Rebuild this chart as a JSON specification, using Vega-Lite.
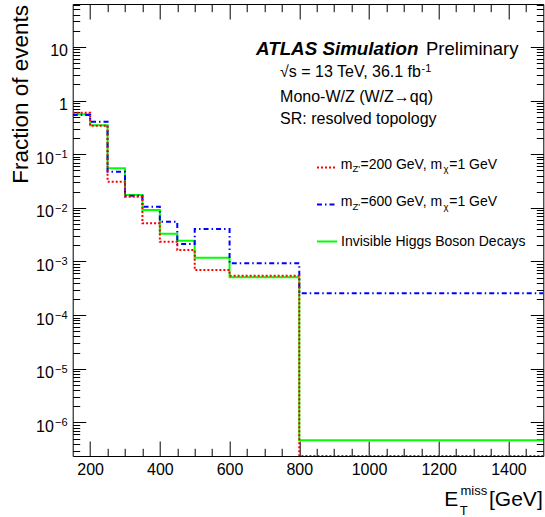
{
  "$schema": "https://vega.github.io/schema/vega-lite/v6.json",
  "width": 470.6,
  "height": 452,
  "autosize": {"type": "none"},
  "padding": {"left": 72.7, "top": 4, "right": 1.7, "bottom": 61},
  "background": "white",
  "config": {
    "view": {"stroke": null},
    "font": "Liberation Sans",
    "text": {"font": "Liberation Sans", "color": "black"},
    "axis": {
      "domainColor": "black", "tickColor": "black", "domainWidth": 1, "tickWidth": 1,
      "grid": false, "labelColor": "black", "labelFont": "Liberation Sans", "labelFontSize": 16,
      "labelFlush": false, "labelOverlap": false, "titleColor": "black", "titleFont": "Liberation Sans"
    }
  },
  "datasets": {
    "hist": [
      {"x": 150, "y": 0.553, "s": "Invisible Higgs Boson Decays"},
      {"x": 200, "y": 0.345, "s": "Invisible Higgs Boson Decays"},
      {"x": 250, "y": 0.0545, "s": "Invisible Higgs Boson Decays"},
      {"x": 300, "y": 0.0173, "s": "Invisible Higgs Boson Decays"},
      {"x": 350, "y": 0.0091, "s": "Invisible Higgs Boson Decays"},
      {"x": 400, "y": 0.00329, "s": "Invisible Higgs Boson Decays"},
      {"x": 450, "y": 0.00244, "s": "Invisible Higgs Boson Decays"},
      {"x": 500, "y": 0.00117, "s": "Invisible Higgs Boson Decays"},
      {"x": 600, "y": 0.000507, "s": "Invisible Higgs Boson Decays"},
      {"x": 800, "y": 4.64e-7, "s": "Invisible Higgs Boson Decays"},
      {"x": 1500, "y": 4.64e-7, "s": "Invisible Higgs Boson Decays"},
      {"x": 150, "y": 0.537, "s": "mZ'=600 GeV, mχ=1 GeV"},
      {"x": 200, "y": 0.403, "s": "mZ'=600 GeV, mχ=1 GeV"},
      {"x": 250, "y": 0.0471, "s": "mZ'=600 GeV, mχ=1 GeV"},
      {"x": 300, "y": 0.0168, "s": "mZ'=600 GeV, mχ=1 GeV"},
      {"x": 350, "y": 0.0105, "s": "mZ'=600 GeV, mχ=1 GeV"},
      {"x": 400, "y": 0.00551, "s": "mZ'=600 GeV, mχ=1 GeV"},
      {"x": 450, "y": 0.00211, "s": "mZ'=600 GeV, mχ=1 GeV"},
      {"x": 500, "y": 0.00403, "s": "mZ'=600 GeV, mχ=1 GeV"},
      {"x": 600, "y": 0.000924, "s": "mZ'=600 GeV, mχ=1 GeV"},
      {"x": 800, "y": 0.000255, "s": "mZ'=600 GeV, mχ=1 GeV"},
      {"x": 1500, "y": 0.000255, "s": "mZ'=600 GeV, mχ=1 GeV"},
      {"x": 150, "y": 0.593, "s": "mZ'=200 GeV, mχ=1 GeV"},
      {"x": 200, "y": 0.34, "s": "mZ'=200 GeV, mχ=1 GeV"},
      {"x": 250, "y": 0.0307, "s": "mZ'=200 GeV, mχ=1 GeV"},
      {"x": 300, "y": 0.0161, "s": "mZ'=200 GeV, mχ=1 GeV"},
      {"x": 350, "y": 0.00514, "s": "mZ'=200 GeV, mχ=1 GeV"},
      {"x": 400, "y": 0.00233, "s": "mZ'=200 GeV, mχ=1 GeV"},
      {"x": 450, "y": 0.00163, "s": "mZ'=200 GeV, mχ=1 GeV"},
      {"x": 500, "y": 0.000693, "s": "mZ'=200 GeV, mχ=1 GeV"},
      {"x": 600, "y": 0.000542, "s": "mZ'=200 GeV, mχ=1 GeV"},
      {"x": 800, "y": 2.37e-7, "s": "mZ'=200 GeV, mχ=1 GeV"},
      {"x": 1500, "y": 2.37e-7, "s": "mZ'=200 GeV, mχ=1 GeV"}
    ],
    "exps": [
      {"v": 0.1, "e": "−1"},
      {"v": 0.01, "e": "−2"},
      {"v": 0.001, "e": "−3"},
      {"v": 0.0001, "e": "−4"},
      {"v": 1e-5, "e": "−5"},
      {"v": 1e-6, "e": "−6"}
    ],
    "one": [{}]
  },
  "layer": [
    {
      "data": {"name": "hist"},
      "mark": {"type": "line", "interpolate": "step-after", "strokeWidth": 2, "clip": true},
      "encoding": {
        "x": {"field": "x", "type": "quantitative",
          "scale": {"domain": [150, 1500], "nice": false, "zero": false},
          "axis": {"orient": "bottom", "title": null, "format": "d",
            "values": [200,250,300,350,400,450,500,550,600,650,700,750,800,850,900,950,1000,1050,1100,1150,1200,1250,1300,1350,1400,1450],
            "labelExpr": "datum.value % 200 == 0 ? datum.label : ''",
            "tickSize": {"condition": {"test": "datum.value % 200 == 0", "value": -15}, "value": -7.7},
            "labelPadding": 33, "labelBaseline": "alphabetic"}},
        "y": {"field": "y", "type": "quantitative",
          "scale": {"type": "log", "domain": [2.37e-7, 63], "nice": false},
          "axis": {"orient": "left", "title": "Fraction of events",
            "titleFontSize": 22.5, "titleFontWeight": "normal", "titleAngle": 270,
            "titleX": -44.8, "titleY": 0.5, "titleAlign": "right", "titleBaseline": "alphabetic",
            "values": [3e-7,4e-7,5e-7,6e-7,7e-7,8e-7,9e-7,1e-6,2e-6,3e-6,4e-6,5e-6,6e-6,7e-6,8e-6,9e-6,1e-5,2e-5,3e-5,4e-5,5e-5,6e-5,7e-5,8e-5,9e-5,1e-4,2e-4,3e-4,4e-4,5e-4,6e-4,7e-4,8e-4,9e-4,0.001,0.002,0.003,0.004,0.005,0.006,0.007,0.008,0.009,0.01,0.02,0.03,0.04,0.05,0.06,0.07,0.08,0.09,0.1,0.2,0.3,0.4,0.5,0.6,0.7,0.8,0.9,1,2,3,4,5,6,7,8,9,10,20,30,40,50,60],
            "labelExpr": "datum.value == 10 ? '10' : datum.value == 1 ? '1' : indexof([1e-6,1e-5,1e-4,0.001,0.01,0.1], datum.value) >= 0 ? '10' : ''",
            "tickSize": {"condition": {"test": "indexof([1e-6,1e-5,1e-4,0.001,0.01,0.1,1,10], datum.value) >= 0", "value": -13}, "value": -7},
            "labelPadding": {"condition": {"test": "datum.value >= 1", "value": 18.2}, "value": 32.4},
            "labelAlign": "right", "labelBaseline": "alphabetic", "labelOffset": 9}},
        "color": {"field": "s", "type": "nominal",
          "scale": {"domain": ["mZ'=200 GeV, mχ=1 GeV", "mZ'=600 GeV, mχ=1 GeV", "Invisible Higgs Boson Decays"], "range": ["#ff0000", "#0000ff", "#00ff00"]},
          "legend": {"title": null, "orient": "none", "legendX": 243.3, "legendY": 152.5, "symbolType": "stroke", "symbolSize": 400, "symbolStrokeWidth": 2,
            "labelFontSize": 14, "labelFont": "Liberation Sans", "labelColor": "black", "labelOffset": 3, "rowPadding": 19, "padding": 0, "labelLimit": 300,
            "labelExpr": "datum.label == 'Invisible Higgs Boson Decays' ? datum.label : ''"}},
        "strokeDash": {"field": "s", "type": "nominal",
          "scale": {"domain": ["mZ'=200 GeV, mχ=1 GeV", "mZ'=600 GeV, mχ=1 GeV", "Invisible Higgs Boson Decays"], "range": [[2, 2], [5, 3, 1.5, 3], [1, 0]]},
          "legend": {"title": null, "orient": "none", "legendX": 243.3, "legendY": 152.5, "symbolType": "stroke", "symbolSize": 400, "symbolStrokeWidth": 2,
            "labelFontSize": 14, "labelFont": "Liberation Sans", "labelColor": "black", "labelOffset": 3, "rowPadding": 19, "padding": 0, "labelLimit": 300,
            "labelExpr": "datum.label == 'Invisible Higgs Boson Decays' ? datum.label : ''"}}
      }
    },
    {
      "data": {"name": "hist"},
      "mark": {"type": "point", "opacity": 0, "clip": true},
      "encoding": {
        "x": {"field": "x", "type": "quantitative",
          "scale": {"domain": [150, 1500], "nice": false, "zero": false},
          "axis": {"orient": "top", "title": null, "labels": false,
            "values": [200,250,300,350,400,450,500,550,600,650,700,750,800,850,900,950,1000,1050,1100,1150,1200,1250,1300,1350,1400,1450],
            "tickSize": {"condition": {"test": "datum.value % 200 == 0", "value": -15}, "value": -7.7}}},
        "y": {"field": "y", "type": "quantitative",
          "scale": {"type": "log", "domain": [2.37e-7, 63], "nice": false},
          "axis": {"orient": "right", "title": null, "labels": false,
            "values": [3e-7,4e-7,5e-7,6e-7,7e-7,8e-7,9e-7,1e-6,2e-6,3e-6,4e-6,5e-6,6e-6,7e-6,8e-6,9e-6,1e-5,2e-5,3e-5,4e-5,5e-5,6e-5,7e-5,8e-5,9e-5,1e-4,2e-4,3e-4,4e-4,5e-4,6e-4,7e-4,8e-4,9e-4,0.001,0.002,0.003,0.004,0.005,0.006,0.007,0.008,0.009,0.01,0.02,0.03,0.04,0.05,0.06,0.07,0.08,0.09,0.1,0.2,0.3,0.4,0.5,0.6,0.7,0.8,0.9,1,2,3,4,5,6,7,8,9,10,20,30,40,50,60],
            "tickSize": {"condition": {"test": "indexof([1e-6,1e-5,1e-4,0.001,0.01,0.1,1,10], datum.value) >= 0", "value": -13}, "value": -7}}}
      }
    },
    {
      "data": {"name": "exps"},
      "mark": {"type": "text", "align": "right", "baseline": "alphabetic", "fontSize": 11, "dy": 4},
      "encoding": {
        "x": {"datum": 135.1, "type": "quantitative", "scale": {"domain": [150, 1500], "nice": false, "zero": false}, "axis": null},
        "y": {"field": "v", "type": "quantitative", "scale": {"type": "log", "domain": [2.37e-7, 63], "nice": false}, "axis": null},
        "text": {"field": "e"}
      }
    },
    {
      "data": {"name": "one"},
      "mark": {"type": "text", "align": "left", "baseline": "alphabetic", "fontSize": 18.8, "fontWeight": "bold", "fontStyle": "italic", "text": "ATLAS Simulation"},
      "encoding": {
        "x": {"datum": 675.8, "type": "quantitative", "scale": {"domain": [150, 1500], "nice": false, "zero": false}, "axis": null},
        "y": {"datum": 7.05, "type": "quantitative", "scale": {"type": "log", "domain": [2.37e-7, 63], "nice": false}, "axis": null}
      }
    },
    {
      "data": {"name": "one"},
      "mark": {"type": "text", "align": "left", "baseline": "alphabetic", "fontSize": 18.5, "text": "Preliminary"},
      "encoding": {
        "x": {"datum": 1163.5, "type": "quantitative", "scale": {"domain": [150, 1500], "nice": false, "zero": false}, "axis": null},
        "y": {"datum": 7.05, "type": "quantitative", "scale": {"type": "log", "domain": [2.37e-7, 63], "nice": false}, "axis": null}
      }
    },
    {
      "data": {"name": "one"},
      "mark": {"type": "text", "align": "left", "baseline": "alphabetic", "fontSize": 16, "text": "√s = 13 TeV, 36.1 fb"},
      "encoding": {
        "x": {"datum": 744.9, "type": "quantitative", "scale": {"domain": [150, 1500], "nice": false, "zero": false}, "axis": null},
        "y": {"datum": 2.742, "type": "quantitative", "scale": {"type": "log", "domain": [2.37e-7, 63], "nice": false}, "axis": null}
      }
    },
    {
      "data": {"name": "one"},
      "mark": {"type": "text", "align": "left", "baseline": "alphabetic", "fontSize": 11, "text": "-1"},
      "encoding": {
        "x": {"datum": 1150.6, "type": "quantitative", "scale": {"domain": [150, 1500], "nice": false, "zero": false}, "axis": null},
        "y": {"datum": 3.398, "type": "quantitative", "scale": {"type": "log", "domain": [2.37e-7, 63], "nice": false}, "axis": null}
      }
    },
    {
      "data": {"name": "one"},
      "mark": {"type": "text", "align": "left", "baseline": "alphabetic", "fontSize": 16, "text": "Mono-W/Z (W/Z→qq)"},
      "encoding": {
        "x": {"datum": 744.9, "type": "quantitative", "scale": {"domain": [150, 1500], "nice": false, "zero": false}, "axis": null},
        "y": {"datum": 0.95, "type": "quantitative", "scale": {"type": "log", "domain": [2.37e-7, 63], "nice": false}, "axis": null}
      }
    },
    {
      "data": {"name": "one"},
      "mark": {"type": "text", "align": "left", "baseline": "alphabetic", "fontSize": 16, "text": "SR: resolved topology"},
      "encoding": {
        "x": {"datum": 744.9, "type": "quantitative", "scale": {"domain": [150, 1500], "nice": false, "zero": false}, "axis": null},
        "y": {"datum": 0.3647, "type": "quantitative", "scale": {"type": "log", "domain": [2.37e-7, 63], "nice": false}, "axis": null}
      }
    },
    {
      "data": {"name": "one"},
      "mark": {"type": "text", "align": "left", "baseline": "alphabetic", "fontSize": 14, "text": "m"},
      "encoding": {
        "x": {"datum": 918.8, "type": "quantitative", "scale": {"domain": [150, 1500], "nice": false, "zero": false}, "axis": null},
        "y": {"datum": 0.05401, "type": "quantitative", "scale": {"type": "log", "domain": [2.37e-7, 63], "nice": false}, "axis": null}
      }
    },
    {
      "data": {"name": "one"},
      "mark": {"type": "text", "align": "left", "baseline": "alphabetic", "fontSize": 9.5, "text": "Z'"},
      "encoding": {
        "x": {"datum": 952.4, "type": "quantitative", "scale": {"domain": [150, 1500], "nice": false, "zero": false}, "axis": null},
        "y": {"datum": 0.04649, "type": "quantitative", "scale": {"type": "log", "domain": [2.37e-7, 63], "nice": false}, "axis": null}
      }
    },
    {
      "data": {"name": "one"},
      "mark": {"type": "text", "align": "left", "baseline": "alphabetic", "fontSize": 14, "text": "=200 GeV, m"},
      "encoding": {
        "x": {"datum": 975.6, "type": "quantitative", "scale": {"domain": [150, 1500], "nice": false, "zero": false}, "axis": null},
        "y": {"datum": 0.05401, "type": "quantitative", "scale": {"type": "log", "domain": [2.37e-7, 63], "nice": false}, "axis": null}
      }
    },
    {
      "data": {"name": "one"},
      "mark": {"type": "text", "align": "left", "baseline": "alphabetic", "fontSize": 9.5, "text": "χ"},
      "encoding": {
        "x": {"datum": 1214.0, "type": "quantitative", "scale": {"domain": [150, 1500], "nice": false, "zero": false}, "axis": null},
        "y": {"datum": 0.04649, "type": "quantitative", "scale": {"type": "log", "domain": [2.37e-7, 63], "nice": false}, "axis": null}
      }
    },
    {
      "data": {"name": "one"},
      "mark": {"type": "text", "align": "left", "baseline": "alphabetic", "fontSize": 14, "text": "=1 GeV"},
      "encoding": {
        "x": {"datum": 1230.1, "type": "quantitative", "scale": {"domain": [150, 1500], "nice": false, "zero": false}, "axis": null},
        "y": {"datum": 0.05401, "type": "quantitative", "scale": {"type": "log", "domain": [2.37e-7, 63], "nice": false}, "axis": null}
      }
    },
    {
      "data": {"name": "one"},
      "mark": {"type": "text", "align": "left", "baseline": "alphabetic", "fontSize": 14, "text": "m"},
      "encoding": {
        "x": {"datum": 918.8, "type": "quantitative", "scale": {"domain": [150, 1500], "nice": false, "zero": false}, "axis": null},
        "y": {"datum": 0.0109, "type": "quantitative", "scale": {"type": "log", "domain": [2.37e-7, 63], "nice": false}, "axis": null}
      }
    },
    {
      "data": {"name": "one"},
      "mark": {"type": "text", "align": "left", "baseline": "alphabetic", "fontSize": 9.5, "text": "Z'"},
      "encoding": {
        "x": {"datum": 952.4, "type": "quantitative", "scale": {"domain": [150, 1500], "nice": false, "zero": false}, "axis": null},
        "y": {"datum": 0.009297, "type": "quantitative", "scale": {"type": "log", "domain": [2.37e-7, 63], "nice": false}, "axis": null}
      }
    },
    {
      "data": {"name": "one"},
      "mark": {"type": "text", "align": "left", "baseline": "alphabetic", "fontSize": 14, "text": "=600 GeV, m"},
      "encoding": {
        "x": {"datum": 975.6, "type": "quantitative", "scale": {"domain": [150, 1500], "nice": false, "zero": false}, "axis": null},
        "y": {"datum": 0.0109, "type": "quantitative", "scale": {"type": "log", "domain": [2.37e-7, 63], "nice": false}, "axis": null}
      }
    },
    {
      "data": {"name": "one"},
      "mark": {"type": "text", "align": "left", "baseline": "alphabetic", "fontSize": 9.5, "text": "χ"},
      "encoding": {
        "x": {"datum": 1214.0, "type": "quantitative", "scale": {"domain": [150, 1500], "nice": false, "zero": false}, "axis": null},
        "y": {"datum": 0.009297, "type": "quantitative", "scale": {"type": "log", "domain": [2.37e-7, 63], "nice": false}, "axis": null}
      }
    },
    {
      "data": {"name": "one"},
      "mark": {"type": "text", "align": "left", "baseline": "alphabetic", "fontSize": 14, "text": "=1 GeV"},
      "encoding": {
        "x": {"datum": 1230.1, "type": "quantitative", "scale": {"domain": [150, 1500], "nice": false, "zero": false}, "axis": null},
        "y": {"datum": 0.0109, "type": "quantitative", "scale": {"type": "log", "domain": [2.37e-7, 63], "nice": false}, "axis": null}
      }
    },
    {
      "data": {"name": "one"},
      "mark": {"type": "text", "align": "left", "baseline": "alphabetic", "fontSize": 21, "text": "E"},
      "encoding": {
        "x": {"datum": 1216.0, "type": "quantitative", "scale": {"domain": [150, 1500], "nice": false, "zero": false}, "axis": null},
        "y": {"datum": 2.77e-8, "type": "quantitative", "scale": {"type": "log", "domain": [2.37e-7, 63], "nice": false}, "axis": null}
      }
    },
    {
      "data": {"name": "one"},
      "mark": {"type": "text", "align": "left", "baseline": "alphabetic", "fontSize": 13, "text": "T"},
      "encoding": {
        "x": {"datum": 1260.5, "type": "quantitative", "scale": {"domain": [150, 1500], "nice": false, "zero": false}, "axis": null},
        "y": {"datum": 1.92e-8, "type": "quantitative", "scale": {"type": "log", "domain": [2.37e-7, 63], "nice": false}, "axis": null}
      }
    },
    {
      "data": {"name": "one"},
      "mark": {"type": "text", "align": "left", "baseline": "alphabetic", "fontSize": 13, "text": "miss"},
      "encoding": {
        "x": {"datum": 1262.5, "type": "quantitative", "scale": {"domain": [150, 1500], "nice": false, "zero": false}, "axis": null},
        "y": {"datum": 4.43e-8, "type": "quantitative", "scale": {"type": "log", "domain": [2.37e-7, 63], "nice": false}, "axis": null}
      }
    },
    {
      "data": {"name": "one"},
      "mark": {"type": "text", "align": "left", "baseline": "alphabetic", "fontSize": 21, "text": "[GeV]"},
      "encoding": {
        "x": {"datum": 1344.3, "type": "quantitative", "scale": {"domain": [150, 1500], "nice": false, "zero": false}, "axis": null},
        "y": {"datum": 2.77e-8, "type": "quantitative", "scale": {"type": "log", "domain": [2.37e-7, 63], "nice": false}, "axis": null}
      }
    }
  ],
  "resolve": {"axis": {"x": "independent", "y": "independent"}}
}
